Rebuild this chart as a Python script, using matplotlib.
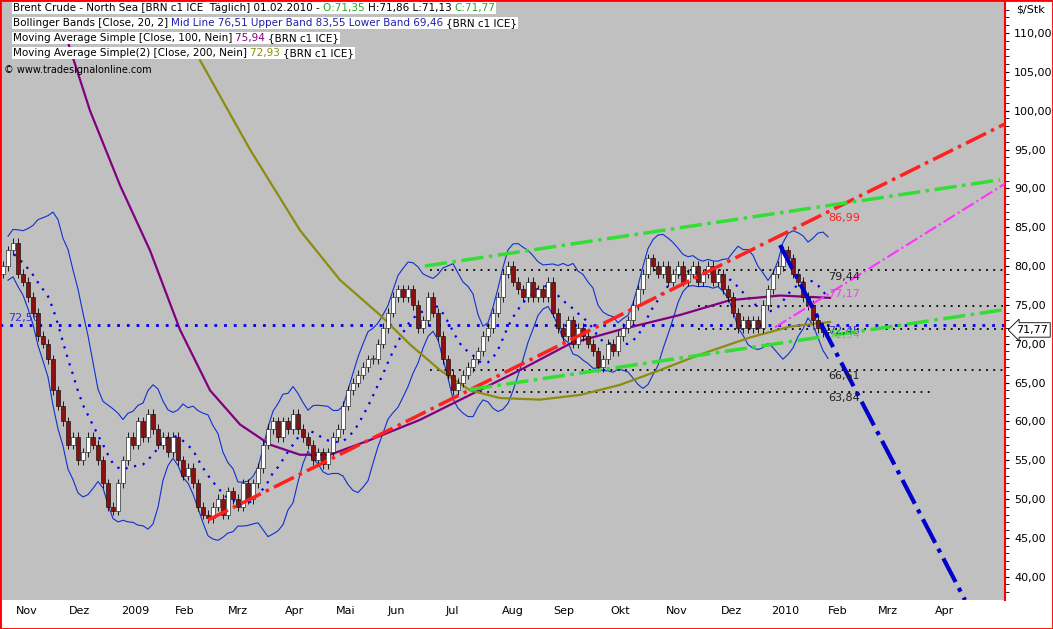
import matplotlib
matplotlib.use("Agg")
import matplotlib.pyplot as plt
import numpy as np
import pandas as pd

# two-trading-day bars, closes
CLOSES = [80, 82, 83, 79, 78, 76, 74, 71, 70, 68, 64, 62, 60, 57, 58, 55, 56, 58, 57, 55,
          52, 49, 48.5, 52, 55, 58, 57, 60, 58, 61, 59, 57, 58, 56, 58, 55, 53, 54, 52, 49,
          48, 47.5, 49, 50, 48, 51, 50, 49, 52, 50, 52, 54, 57, 59, 60, 58, 60, 59, 61, 59,
          58, 57, 55, 56, 54.5, 56, 58, 59, 62, 64, 65, 66, 67, 68, 68, 70, 72, 74, 76, 77,
          76, 77, 75, 72, 73, 76, 74, 71, 68, 66, 64, 65, 66, 67, 68, 69, 71, 72, 74, 76,
          79, 80, 78, 77, 76, 78, 76, 77, 76, 78, 74, 72, 71, 73, 70, 72, 71, 70, 69, 67,
          68, 70, 69, 71, 72, 73, 75, 77, 79, 81, 80, 79, 80, 78, 79, 80, 78, 79, 80, 78,
          79, 80, 78, 79, 77, 76, 74, 72, 73, 72, 73, 72, 75, 77, 79, 80, 82, 81, 79, 78,
          76, 75, 73, 72, 71.5, 71.8]
FIRST_OPEN = 79.0

SMA100_X = [12.4, 17.4, 23.4, 29.4, 35.4, 41.4, 47.4, 53.4, 59.4, 65.4, 73.4, 83.4, 93.4,
            103.4, 113.4, 123.4, 135.4, 145.4, 155.4, 165.4]
SMA100_Y = [110, 100, 90.4, 82, 71.8, 64, 59.6, 57, 55.7, 55.7, 57.6, 60.2, 63.4,
            66.6, 70, 71.8, 73.7, 75.6, 76.2, 75.9]
SMA200_X = [39.4, 49.4, 59.4, 67.4, 75.4, 81.4, 87.4, 93.4, 99.4, 107.4, 115.4, 123.4,
            131.4, 139.4, 149.4, 157.4, 165.4]
SMA200_Y = [106.5, 95, 84.6, 78.2, 73.7, 69.9, 66.6, 64, 63, 62.8, 63.4, 64.7,
            66.6, 68.6, 70.8, 72.2, 72.8]

# trendlines: (x0, y0, x1, y1, color, width)
TRENDS = [
    (41, 47.3, 200.4, 98.3, "#ff2020", 2.5),
    (84.4, 80.0, 199.4, 91.1, "#33dd33", 2.5),
    (93.4, 64.1, 200.4, 74.4, "#33dd33", 2.5),
    (154.4, 72.1, 200.4, 90.6, "#ff33ff", 1.5),
    (155.4, 82.7, 192.4, 37.0, "#0000cc", 3.0),
]
HLINES = [(85.4, 200, 79.44), (139, 200, 74.8), (139, 200, 71.9), (85.4, 200, 66.61), (95.4, 186.4, 63.84)]
LEVEL_LABELS = [("86,99", 86.99, "#ff2020"), ("79,44", 79.44, "#202020"), ("77,17", 77.17, "#ee44ee"),
                ("72,45", 72.45, "#3333cc"), ("71,94", 71.94, "#55cc55"), ("66,61", 66.61, "#202020"),
                ("63,84", 63.84, "#202020")]
MONTHS = ["Nov", "Dez", "2009", "Feb", "Mrz", "Apr", "Mai", "Jun", "Jul", "Aug", "Sep", "Okt",
          "Nov", "Dez", "2010", "Feb", "Mrz", "Apr"]
MONTH_POS = [4.8, 15.4, 26.4, 36.4, 47, 58.4, 68.6, 78.6, 89.8, 102, 112.2, 123.4, 134.8,
             145.6, 156.4, 167, 177, 188.4]

fig = plt.figure(figsize=(10.53, 6.29), dpi=100)
fig.patch.set_facecolor("white")
ax = fig.add_axes([0.0, 29 / 629, 1005 / 1053, 1 - 29 / 629])
ax.set_facecolor("#c0c0c0")

c = pd.Series(CLOSES)
o = c.shift(1).fillna(FIRST_OPEN)
idx = np.arange(len(c))
for i in idx:
    lo, hi = min(o[i], c[i]), max(o[i], c[i])
    ax.vlines(i, lo - 0.6, hi + 0.6, color="black", lw=0.6, zorder=3)
    col = "white" if c[i] >= o[i] else "#8b1010"
    ax.bar(i, max(hi - lo, 0.15), bottom=lo, width=0.7, color=col, edgecolor="black", lw=0.4, zorder=4)

mid = c.rolling(10, min_periods=2).mean()
sd = c.rolling(10, min_periods=2).std()
ax.plot(idx, mid, color="#0000ee", lw=1.6, ls=(0, (1, 3)), zorder=2)
ax.plot(idx, mid + 2 * sd, color="#1030d0", lw=0.8, zorder=2)
ax.plot(idx, mid - 2 * sd, color="#1030d0", lw=0.8, zorder=2)

ax.plot(SMA100_X, SMA100_Y, color="#800080", lw=1.6, zorder=2)
ax.plot(SMA200_X, SMA200_Y, color="#8c8c10", lw=1.6, zorder=2)

for x0, y0, x1, y1, col, w in TRENDS:
    ax.plot([x0, x1], [y0, y1], color=col, lw=w, ls="-.", zorder=5)
for x0, x1, y in HLINES:
    ax.hlines(y, x0, x1, color="black", lw=1.3, ls=(0, (1, 3)), zorder=1)
ax.axhline(72.45, color="#0000ee", lw=2, ls=(0, (1, 2.5)), zorder=1)
ax.text(1, 72.9, "72,56", color="#3333cc", fontsize=8)

for txt, y, col in LEVEL_LABELS:
    ax.text(165, y - 1.2, txt, color=col, fontsize=8, zorder=6)

ax.set_xlim(-0.6, 200.4)
ax.set_ylim(37.0, 114.25)
ax.set_xticks(MONTH_POS)
ax.set_xticklabels(MONTHS, fontsize=8)
ax.tick_params(axis="x", length=0, pad=4)
ax.yaxis.tick_right()
ax.set_yticks(np.arange(40, 111, 5))
ax.set_yticklabels([f"{v:.2f}".replace(".", ",") for v in np.arange(40, 111, 5)], fontsize=8)
ax.set_yticks(np.arange(38, 114, 1), minor=True)
ax.tick_params(axis="y", which="both", direction="out", colors="black", length=3)
for s in ["top", "left", "bottom"]:
    ax.spines[s].set_visible(False)
ax.spines["right"].set_color("red")
ax.spines["right"].set_linewidth(1.5)

ax.annotate("71,77", xy=(1.0, 71.77), xycoords=("axes fraction", "data"), xytext=(8, 0),
            textcoords="offset points", va="center", fontsize=8,
            bbox=dict(boxstyle="larrow,pad=0.2", fc="white", ec="black", lw=0.6))

legend_lines = [
    [("Brent Crude - North Sea [BRN c1 ICE  Täglich] 01.02.2010 - ", "black"), ("O:71,35 ", "#22aa22"),
     ("H:71,86 L:71,13 ", "black"), ("C:71,77", "#22aa22")],
    [("Bollinger Bands [Close, 20, 2] ", "black"), ("Mid Line 76,51 Upper Band 83,55 Lower Band 69,46 ", "#2020aa"),
     ("{BRN c1 ICE}", "black")],
    [("Moving Average Simple [Close, 100, Nein] ", "black"), ("75,94 ", "#800080"), ("{BRN c1 ICE}", "black")],
    [("Moving Average Simple(2) [Close, 200, Nein] ", "black"), ("72,93 ", "#8c8c10"), ("{BRN c1 ICE}", "black")],
]
renderer = fig.canvas.get_renderer()
for row, parts in enumerate(legend_lines):
    y = 1 - (8 + 15 * row) / 629
    xpos = 0.012
    for s, col in parts:
        tt = fig.text(xpos, y, s, color=col, fontsize=7.5, va="center",
                      bbox=dict(fc="white", ec="none", pad=0.6))
        xpos += tt.get_window_extent(renderer).width / fig.bbox.width
fig.text(0.004, 1 - 70 / 629, "© www.tradesignalonline.com", fontsize=7, va="center")
fig.text(0.992, 1 - 10 / 629, "$/Stk", fontsize=8, va="center", ha="right")

fig.add_artist(plt.Rectangle((0, 0), 1, 1, transform=fig.transFigure, fill=False, ec="red", lw=2))
fig.savefig("out.png", dpi=100)
